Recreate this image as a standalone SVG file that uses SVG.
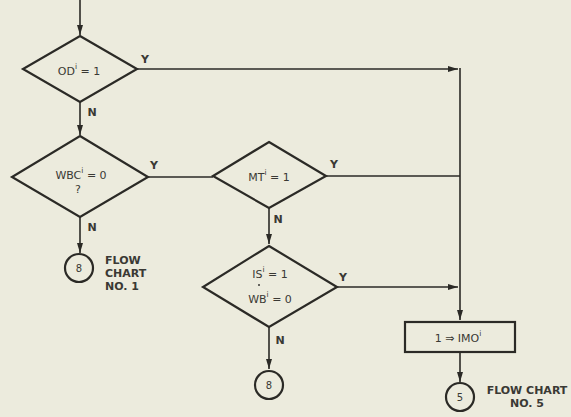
<svg xmlns="http://www.w3.org/2000/svg" width="571" height="417" viewBox="0 0 571 417">
<defs>
<marker id="ah" viewBox="0 0 10 6" refX="10" refY="3" markerWidth="10" markerHeight="6" markerUnits="userSpaceOnUse" orient="auto">
<path d="M0,0 L10,3 L0,6 Z" fill="#2b2a26"/>
</marker>
<style>
.shape{fill:none;stroke:#2b2a26;stroke-width:2.2;stroke-linejoin:miter}
.line{fill:none;stroke:#2b2a26;stroke-width:1.6}
.t{font-family:"DejaVu Sans","Liberation Sans",sans-serif;font-size:11px;fill:#3a3934;text-anchor:middle}
.sup{font-size:7.5px}
.lbl{font-family:"DejaVu Sans","Liberation Sans",sans-serif;font-size:11px;font-weight:bold;fill:#3a3934;text-anchor:middle}
.note{font-family:"DejaVu Sans","Liberation Sans",sans-serif;font-size:11px;font-weight:bold;fill:#3a3934}
</style>
</defs>
<rect width="571" height="417" fill="#ecebdd"/>
<g id="connectors">
<line class="line" x1="80" y1="0" x2="80" y2="35" marker-end="url(#ah)"/>
<line class="line" x1="137" y1="69" x2="458" y2="69" marker-end="url(#ah)"/>
<polyline class="line" points="460,68 460,320" marker-end="url(#ah)"/>
<line class="line" x1="80" y1="102" x2="80" y2="135" marker-end="url(#ah)"/>
<line class="line" x1="148" y1="177" x2="213" y2="177"/>
<line class="line" x1="80" y1="217" x2="80" y2="253" marker-end="url(#ah)"/>
<line class="line" x1="326" y1="176" x2="460" y2="176"/>
<line class="line" x1="269" y1="208" x2="269" y2="244" marker-end="url(#ah)"/>
<line class="line" x1="337" y1="287" x2="458" y2="287" marker-end="url(#ah)"/>
<line class="line" x1="269" y1="327" x2="269" y2="369" marker-end="url(#ah)"/>
<line class="line" x1="460" y1="352" x2="460" y2="382" marker-end="url(#ah)"/>
<text class="lbl" x="145" y="63">Y</text>
<text class="lbl" x="92" y="116">N</text>
<text class="lbl" x="154" y="169">Y</text>
<text class="lbl" x="92" y="231">N</text>
<text class="lbl" x="334" y="168">Y</text>
<text class="lbl" x="278" y="223">N</text>
<text class="lbl" x="343" y="281">Y</text>
<text class="lbl" x="280" y="344">N</text>
</g>
<g id="od">
<polygon class="shape" points="80,36 137,69 80,102 23,69"/>
<text class="t" x="79" y="75">OD<tspan class="sup" dy="-6">i</tspan><tspan dy="6">  =  1</tspan></text>
</g>
<g id="wbc">
<polygon class="shape" points="80,136 148,177 80,217 12,177"/>
<text class="t" x="81" y="179">WBC<tspan class="sup" dy="-6">i</tspan><tspan dy="6">  =  0</tspan></text>
<text class="t" x="78" y="193">?</text>
</g>
<g id="b1">
<circle class="shape" cx="79" cy="268" r="14"/>
<text class="t" x="79" y="272" style="font-size:10px">8</text>
<text class="note" x="105" y="264">FLOW</text>
<text class="note" x="105" y="277">CHART</text>
<text class="note" x="105" y="290">NO. 1</text>
</g>
<g id="mt">
<polygon class="shape" points="269,142 326,176 269,208 213,176"/>
<text class="t" x="269" y="181">MT<tspan class="sup" dy="-6">i</tspan><tspan dy="6">  =  1</tspan></text>
</g>
<g id="is">
<polygon class="shape" points="269,246 337,287 269,327 203,287"/>
<text class="t" x="270" y="278">IS<tspan class="sup" dy="-6">i</tspan><tspan dy="6">  =  1</tspan></text>
<circle cx="259" cy="285" r="1" fill="#3a3934"/>
<text class="t" x="270" y="303">WB<tspan class="sup" dy="-6">i</tspan><tspan dy="6">  =  0</tspan></text>
</g>
<g id="b2">
<circle class="shape" cx="269" cy="385" r="14"/>
<text class="t" x="269" y="389" style="font-size:10px">8</text>
</g>
<g id="imo">
<rect class="shape" x="405" y="322" width="110" height="30"/>
<text class="t" x="458" y="342">1 ⇒ IMO<tspan class="sup" dy="-6">i</tspan></text>
</g>
<g id="c5">
<circle class="shape" cx="460" cy="397" r="14"/>
<text class="t" x="460" y="401" style="font-size:10px">5</text>
<text class="note" x="527" y="394" text-anchor="middle">FLOW CHART</text>
<text class="note" x="527" y="407" text-anchor="middle">NO. 5</text>
</g>
</svg>
